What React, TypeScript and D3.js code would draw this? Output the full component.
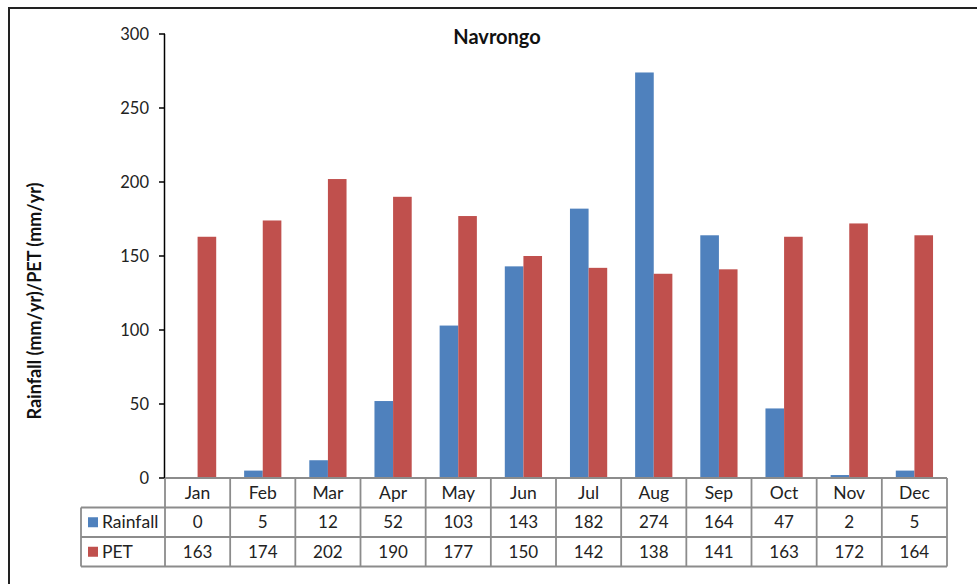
import React from "react";
import * as d3 from "d3";

const months = ["Jan", "Feb", "Mar", "Apr", "May", "Jun", "Jul", "Aug", "Sep", "Oct", "Nov", "Dec"];
const rainfall = [0, 5, 12, 52, 103, 143, 182, 274, 164, 47, 2, 5];
const pet = [163, 174, 202, 190, 177, 150, 142, 138, 141, 163, 172, 164];
const seriesNames = ["Rainfall", "PET"];
const seriesColors = ["#4F81BD", "#C0504D"];
const yTicks = [0, 50, 100, 150, 200, 250, 300];

const W = 977;
const H = 584;
const FONT = "Lato, 'Open Sans', sans-serif";

export default function App() {
  const x0 = 165;
  const x1 = 947;
  const yTop = 34;
  const yBase = 478;
  const rowH = 29.5;

  const x = d3.scaleBand<string>().domain(months).range([x0, x1]).paddingInner(0).paddingOuter(0);
  const y = d3.scaleLinear().domain([0, 300]).range([yBase, yTop]);
  const bw = x.bandwidth();
  const barW = bw / 3.5;
  const series = [rainfall, pet];

  const tableLeft = 81;
  const rows = [yBase, yBase + rowH, yBase + rowH * 2, yBase + rowH * 3];

  return (
    <svg width={W} height={H} style={{ position: "absolute", left: 0, top: 0 }} fontFamily={FONT}>
      <rect x={0} y={0} width={W} height={H} fill="#fff" />
      {/* outer frame */}
      <rect x={9} y={8} width={W + 20} height={H + 20} fill="none" stroke="#222" strokeWidth={2} />

      <text x={497} y={44} textAnchor="middle" fontSize={20} fontWeight="bold" fill="#111">Navrongo</text>

      <text
        transform={`translate(41,301) rotate(-90)`}
        textAnchor="middle"
        fontSize={18}
        fontWeight="bold"
        fill="#111"
      >
        Rainfall (mm/yr)/PET (mm/yr)
      </text>

      {/* bars */}
      {months.map((m, i) => (
        <g key={m}>
          {series.map((s, k) => {
            const cx = (x(m) as number) + bw / 2;
            const bx = cx - barW + k * barW;
            return (
              <rect
                key={k}
                x={bx}
                y={y(s[i])}
                width={barW}
                height={yBase - y(s[i])}
                fill={seriesColors[k]}
              />
            );
          })}
        </g>
      ))}

      {/* y axis */}
      <line x1={x0 - 0.5} x2={x0 - 0.5} y1={yTop} y2={yBase} stroke="#000" strokeWidth={1.5} />
      {yTicks.map((t) => (
        <g key={t}>
          <line x1={x0 - 6} x2={x0} y1={y(t)} y2={y(t)} stroke="#000" strokeWidth={1.5} />
          <text x={x0 - 16} y={y(t)} dy="0.35em" textAnchor="end" fontSize={16.5} fill="#222">{t}</text>
        </g>
      ))}

      {/* data table */}
      <g stroke="#8c8c8c" strokeWidth={1.8} fill="none">
        <line x1={x0} x2={x1} y1={rows[0]} y2={rows[0]} />
        <line x1={tableLeft} x2={x1} y1={rows[1]} y2={rows[1]} />
        <line x1={tableLeft} x2={x1} y1={rows[2]} y2={rows[2]} />
        <line x1={tableLeft} x2={x1} y1={rows[3]} y2={rows[3]} />
        <line x1={tableLeft} x2={tableLeft} y1={rows[1]} y2={rows[3]} />
        {months.map((m) => (
          <line key={m} x1={x(m)} x2={x(m)} y1={rows[0]} y2={rows[3]} />
        ))}
        <line x1={x1} x2={x1} y1={rows[0]} y2={rows[3]} />
      </g>
      {months.map((m) => (
        <text key={m} x={(x(m) as number) + bw / 2} y={rows[0] + rowH / 2} dy="0.35em" textAnchor="middle" fontSize={17.5} fill="#222">{m}</text>
      ))}
      {series.map((s, k) => (
        <g key={k}>
          <rect x={88} y={rows[k + 1] + rowH / 2 - 5} width={10} height={10} fill={seriesColors[k]} />
          <text x={102} y={rows[k + 1] + rowH / 2} dy="0.35em" fontSize={17.5} fill="#222">{seriesNames[k]}</text>
          {months.map((m, i) => (
            <text key={m} x={(x(m) as number) + bw / 2} y={rows[k + 1] + rowH / 2} dy="0.35em" textAnchor="middle" fontSize={17} fill="#222">{s[i]}</text>
          ))}
        </g>
      ))}
    </svg>
  );
}
